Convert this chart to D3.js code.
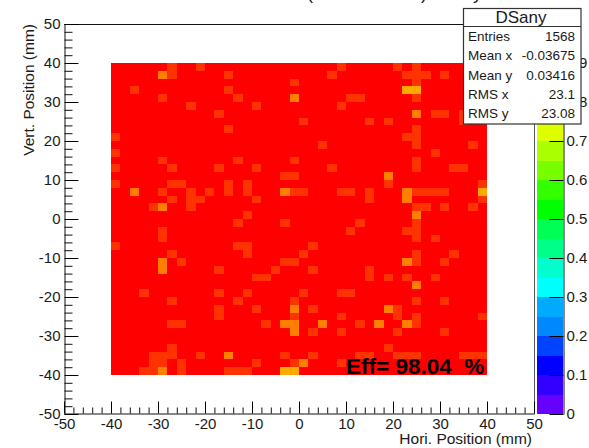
<!DOCTYPE html>
<html lang="en">
<head>
<meta charset="utf-8">
<style type="text/css">
    html, body { margin: 0; padding: 0; background: #fff; }
    svg { display: block; }
    text { font-family: "Liberation Sans", Arial, sans-serif; fill: #1a1a1a; }
    .axis-line { stroke: #111; stroke-width: 1px; }
    .cells rect { shape-rendering: crispEdges; }
</style>
</head>
<body>
<svg width="589" height="448"></svg>
<script src="https://d3js.org/d3.v7.min.js"></script>
<script type="text/javascript">
// bins that are not at full efficiency, one string per row from the top (y=+40 down to y=-40)
// token = column counted from x=-40, suffix: none = 0.92, o = 0.86, a = 0.81
var lowBins = [
    "6 9 24 30 32",
    "5o 6 12 23 31 32 33 35",
    "19 32",
    "2 12 31a 32a",
    "5 13 19o 25 26 32",
    "8 15 24",
    "11 32o 34 35 37",
    "20 27 29 37",
    "12 32",
    "0 31 32",
    "22 32 38",
    "0 34",
    "5 13 19 32",
    "0 6 11 15 23 32 36 37",
    "18 19 29o",
    "0 6 7 12 14 29 39",
    "2o 5 8 10 12 14 18o 19 20 24 25 27 31o 32 33 34 35 39a",
    "6 8 9 15 27 31o 39",
    "4 5o 8 32 33 35 38",
    "14 32o",
    "13 18 26 32",
    "5 25 31 32",
    "5 32 34",
    "0 13 14 21",
    "6 14 20 32 36",
    "5o 7 18 19 31o 32 35",
    "5o 11 17 21 27",
    "15 16 27 29 31 34",
    "32o",
    "3 11 14 20 24 25",
    "6 13 19 32 35",
    "11 15 19o 21 29o 30",
    "11 19 24 30 32 39",
    "6 7 16 18o 19o 22o 26 28o 31o 32",
    "19o 21 24 30 35",
    "",
    "6 29",
    "4 5 6 9 12o 18 21 26 27 30 31 32 37 38 39",
    "4 5 7 15 19 20o 24",
    "3 4 5o 7 12 13 14 18a 19a"
];
var fullEff = 1.0;
var suffixEff = { "": 0.92, "o": 0.86, "a": 0.81 };

// z palette, 20 equal bands from 0 to 1
var zColors = ["#6600ff", "#3300ff", "#0000ff", "#0044ff", "#0088ff", "#00aaff", "#00ffff",
    "#00ffcc", "#00ff88", "#00ff55", "#00ff00", "#33ff00", "#77ff00", "#aaff00", "#ddff00",
    "#ffff00", "#ffaa00", "#ff8000", "#ff3300", "#ff0000"];

var axisTicks = [-50, -40, -30, -20, -10, 0, 10, 20, 30, 40, 50];
var zTicks = [0, 0.1, 0.2, 0.3, 0.4, 0.5, 0.6, 0.7, 0.8, 0.9];

var statTitle = "DSany";
var statLabels = ["Entries", "Mean x", "Mean y", "RMS x", "RMS y"];
var statValues = ["1568", "-0.03675", "0.03416", "23.1", "23.08"];
var effLabel = "Eff= 98.04  %";

var svg = d3.select("svg");

var x = d3.scaleLinear().domain([-50, 50]).range([64, 534]);
var y = d3.scaleLinear().domain([-50, 50]).range([414, 24]);
var z = d3.scaleLinear().domain([0, 1]).range([414, 24]);
var zBand = d3.scaleQuantize().domain([0, 1]).range(zColors);

var colBand = d3.scaleBand().domain(d3.range(40)).range([x(-40), x(40)]);
var rowBand = d3.scaleBand().domain(d3.range(40)).range([y(40), y(-40)]);

// expand rows into a cell list
var cells = [];
lowBins.forEach(function (row, r) {
    var low = {};
    row.split(" ").filter(Boolean).forEach(function (t) {
        low[parseInt(t)] = suffixEff[t.replace(/[0-9]/g, "")];
    });
    d3.range(40).forEach(function (c) {
        cells.push({ col: c, row: r, eff: low[c] === undefined ? fullEff : low[c] });
    });
});

svg.append("g").attr("class", "cells").selectAll("rect")
    .data(cells)
    .enter()
    .append("rect")
    .attr("x", function (d) { return colBand(d.col); })
    .attr("y", function (d) { return rowBand(d.row); })
    .attr("width", colBand.bandwidth())
    .attr("height", rowBand.bandwidth())
    .attr("fill", function (d) { return zBand(d.eff); });

// palette
var zBar = 537, zAxis = 563;
svg.append("g").attr("class", "cells").selectAll("rect")
    .data(zColors)
    .enter()
    .append("rect")
    .attr("x", zBar)
    .attr("y", function (d, i) { return z((i + 1) / zColors.length); })
    .attr("width", zAxis - zBar)
    .attr("height", z(0) - z(1 / zColors.length))
    .attr("fill", function (d) { return d; });

// frame
svg.append("line").attr("class", "axis-line")
    .attr("x1", x(-50)).attr("x2", x(50)).attr("y1", y(50) + 0.5).attr("y2", y(50) + 0.5);
svg.append("line").attr("class", "axis-line").style("stroke", "#555")
    .attr("x1", x(50) + 0.5).attr("x2", x(50) + 0.5).attr("y1", y(50)).attr("y2", y(-50));

// axes: major and minor ticks drawn inward like ROOT does
var minorTicks = d3.range(-50, 50.01, 2).filter(function (v) { return v % 10 !== 0; });

var xAxis = svg.append("g").attr("transform", "translate(0," + (y(-50) - 0.5) + ")")
    .call(d3.axisBottom(x).tickValues(axisTicks).tickSize(-12).tickSizeOuter(0)
        .tickFormat(function (d) { return d; }));
xAxis.selectAll("text").attr("y", 5).attr("dy", "0.71em").style("font-size", "15px");
xAxis.selectAll(".tick-minor").data(minorTicks).enter().append("line")
    .attr("x1", function (d) { return x(d) + 0.5; }).attr("x2", function (d) { return x(d) + 0.5; })
    .attr("y2", -6).attr("stroke", "#111");

var yAxis = svg.append("g").attr("transform", "translate(" + (x(-50) + 0.5) + ",0)")
    .call(d3.axisLeft(y).tickValues(axisTicks).tickSize(-14).tickSizeOuter(0)
        .tickFormat(function (d) { return d; }));
yAxis.selectAll("text").attr("x", -4).style("font-size", "15px");
yAxis.selectAll(".tick-minor").data(minorTicks).enter().append("line")
    .attr("y1", function (d) { return y(d) + 0.5; }).attr("y2", function (d) { return y(d) + 0.5; })
    .attr("x2", 8).attr("stroke", "#111");

// palette axis
var zAxisG = svg.append("g").attr("transform", "translate(" + (zAxis + 0.5) + ",0)")
    .call(d3.axisRight(z).tickValues(zTicks).tickSize(-14).tickSizeOuter(0)
        .tickFormat(function (d) { return d; }));
zAxisG.selectAll("text").attr("x", 3).style("font-size", "15px");

svg.selectAll(".domain").attr("stroke", "#111");

svg.append("text")
    .attr("x", 532).attr("y", 444)
    .attr("text-anchor", "end")
    .style("font-size", "15.5px")
    .text("Hori. Position (mm)");

svg.append("text")
    .attr("transform", "translate(34,24) rotate(-90)")
    .attr("text-anchor", "end")
    .style("font-size", "15.5px")
    .text("Vert. Position (mm)");

svg.append("text")
    .attr("x", 346).attr("y", 374)
    .style("font-size", "22.5px")
    .style("font-weight", "bold")
    .style("white-space", "pre")
    .style("fill", "#000")
    .text(effLabel);

// only the descenders of the title reach the page in the reference, the rest is cut off above
var titleTails = [{ s: "(", px: 307 }, { s: ")", px: 421 }, { s: "y", px: 473 }];
svg.selectAll(".title-tail").data(titleTails).enter().append("text")
    .attr("x", function (d) { return d.px; })
    .attr("y", -1)
    .style("font-size", "18px")
    .text(function (d) { return d.s; });

// stats box sits on top of everything
var box = svg.append("g");
box.append("rect")
    .attr("x", 463.5).attr("y", 8.5).attr("width", 117.5).attr("height", 115.5)
    .attr("fill", "#fff").attr("stroke", "#333").attr("stroke-width", 1.2);
box.append("line")
    .attr("x1", 463.5).attr("x2", 581).attr("y1", 26.5).attr("y2", 26.5)
    .attr("stroke", "#333");
box.append("text")
    .attr("x", 521).attr("y", 22.5).attr("text-anchor", "middle")
    .style("font-size", "17px")
    .text(statTitle);

var statRow = d3.scalePoint().domain(d3.range(statLabels.length)).range([41, 118]);
box.selectAll(".stat-label").data(statLabels).enter().append("text")
    .attr("x", 468)
    .attr("y", function (d, i) { return statRow(i); })
    .style("font-size", "13.5px")
    .text(function (d) { return d; });
box.selectAll(".stat-value").data(statValues).enter().append("text")
    .attr("x", 575)
    .attr("y", function (d, i) { return statRow(i); })
    .attr("text-anchor", "end")
    .style("font-size", "13.5px")
    .text(function (d) { return d; });
</script>
</body>
</html>
